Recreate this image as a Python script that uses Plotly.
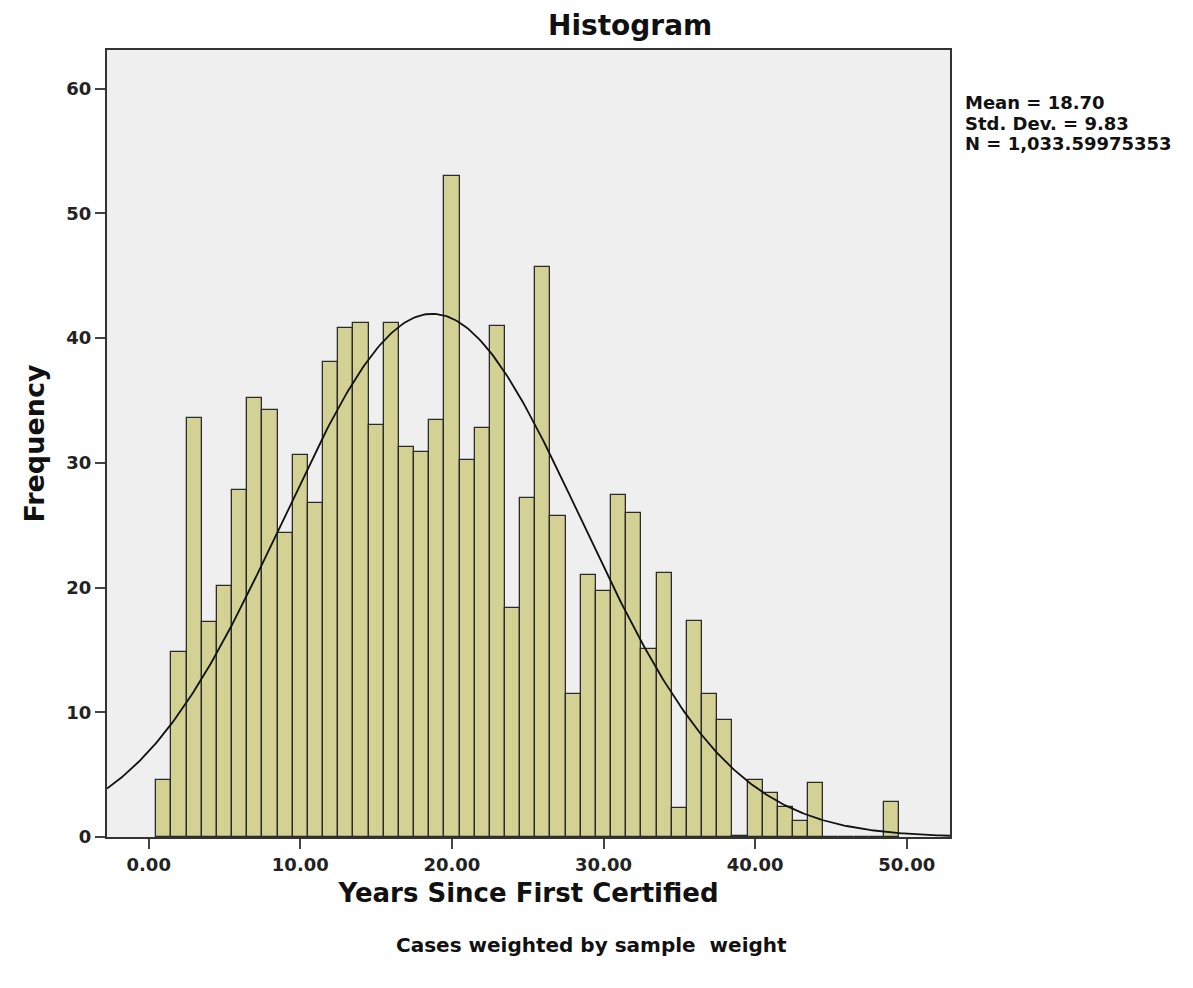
import numpy as np
import plotly.graph_objects as go

# Histogram bins: centre of each one-year bin and its weighted frequency
years = list(range(1, 50))
frequency = [4.6, 14.8, 33.6, 17.2, 20.1, 27.8, 35.2, 34.2, 24.4, 30.6,
             26.8, 38.1, 40.8, 41.2, 33.0, 41.2, 31.3, 30.85, 33.4, 53.0,
             30.2, 32.8, 41.0, 18.4, 27.2, 45.7, 25.7, 11.5, 21.0, 19.7,
             27.4, 26.0, 15.1, 21.2, 2.3, 17.3, 11.5, 9.4, 0.1, 4.55,
             3.5, 2.4, 1.3, 4.3, 0, 0, 0, 0, 2.8]

# Summary statistics shown beside the plot (also drive the normal curve)
mean_years = 18.70
sd_years = 9.83
n_weighted = 1033.59975353
bin_width = 1.0

x_tick_vals = [0, 10, 20, 30, 40, 50]
y_tick_vals = [0, 10, 20, 30, 40, 50, 60]
x_range = [-2.75, 52.85]
y_range = [0, 63.1]

FONT = "DejaVu Sans"
BAR_FILL = "#D4D195"
PLOT_BG = "#EFEFEF"

# plot-area pixel box, used to place the free text
L, R, T, B = 107, 950, 50, 837


def px_x(x):
    return (x - L) / (R - L)


def px_y(y):
    return (B - y) / (B - T)


# Normal density scaled to the histogram's counts
curve_x = np.linspace(x_range[0], x_range[1], 400)
curve_y = (n_weighted * bin_width / (sd_years * np.sqrt(2 * np.pi))
           * np.exp(-0.5 * ((curve_x - mean_years) / sd_years) ** 2))

fig = go.Figure()
fig.add_trace(go.Bar(
    x=years, y=frequency, width=bin_width,
    marker=dict(color=BAR_FILL, line=dict(color="#2b2b2b", width=1.3)),
    showlegend=False, hoverinfo="x+y",
))
fig.add_trace(go.Scatter(
    x=curve_x, y=curve_y, mode="lines",
    line=dict(color="#111111", width=1.8),
    showlegend=False, hoverinfo="skip",
))

stats_lines = [
    f"Mean = {mean_years:.2f}",
    f"Std. Dev. = {sd_years:.2f}",
    f"N = {n_weighted:,.8f}",
]
stats_annotations = [
    dict(text=line, xref="paper", yref="paper",
         x=px_x(963), y=px_y(102 + 21 * i),
         xanchor="left", yanchor="middle", align="left", showarrow=False,
         font=dict(family=FONT, size=18, weight="bold", color="#111111"))
    for i, line in enumerate(stats_lines)
]

fig.update_layout(
    width=1193, height=988,
    margin=dict(l=L, r=1193 - R, t=T, b=988 - B),
    paper_bgcolor="white",
    plot_bgcolor=PLOT_BG,
    bargap=0,
    font=dict(family=FONT, color="#111111"),
    xaxis=dict(
        range=x_range, tickvals=x_tick_vals, tickformat=".2f",
        showgrid=False, zeroline=False,
        showline=True, linecolor="#333333", linewidth=2, mirror=True,
        ticks="outside", ticklen=10, tickwidth=2, tickcolor="#444444",
        tickfont=dict(family=FONT, size=18, weight="bold", color="#222222"),
        title=dict(text="Years Since First Certified", standoff=10,
                   font=dict(family=FONT, size=26, weight="bold", color="#111111")),
    ),
    yaxis=dict(
        range=y_range, tickvals=y_tick_vals,
        showgrid=False, zeroline=False,
        showline=True, linecolor="#333333", linewidth=2, mirror=True,
        ticks="outside", ticklen=10, tickwidth=2, tickcolor="#444444",
        tickfont=dict(family=FONT, size=18, weight="bold", color="#222222"),
        title=dict(text="Frequency", standoff=14,
                   font=dict(family=FONT, size=27, weight="bold", color="#111111")),
    ),
    annotations=[
        dict(text="Histogram", xref="paper", yref="paper",
             x=px_x(630), y=px_y(26),
             xanchor="center", yanchor="middle", showarrow=False,
             font=dict(family=FONT, size=28, weight="bold", color="#111111")),
        dict(text="Cases weighted by sample  weight", xref="paper", yref="paper",
             x=px_x(591), y=px_y(945),
             xanchor="center", yanchor="middle", showarrow=False,
             font=dict(family=FONT, size=20, weight="bold", color="#111111")),
    ] + stats_annotations,
)

fig.write_html("out.html")
